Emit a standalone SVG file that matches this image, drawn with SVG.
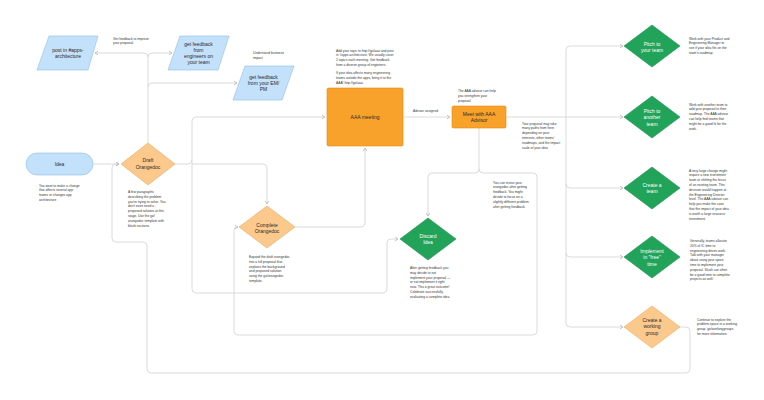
<svg xmlns="http://www.w3.org/2000/svg" width="764" height="400" viewBox="0 0 764 400">
<defs>
<marker id="arr" markerWidth="6" markerHeight="6" refX="4.5" refY="3" orient="auto" markerUnits="userSpaceOnUse">
<path d="M1.5,1.2 L4.5,3 L1.5,4.8" fill="none" stroke="#b8b8b8" stroke-width="0.8"/>
</marker>
<style>
.c{fill:none;stroke:#d2d2d2;stroke-width:0.8}
.a{marker-end:url(#arr)}
.blue{fill:#c3e1fb;stroke:#8dbde6;stroke-width:0.6}
.org{fill:#f9a22b;stroke:#e0890f;stroke-width:0.6}
.lorg{fill:#fcc98d;stroke:#e8a962;stroke-width:0.6}
.grn{fill:#22a35a;stroke:#1c8f4d;stroke-width:0.6}
.l{font-family:"Liberation Sans",Arial,sans-serif;font-size:5px;fill:#2b2b2b;text-anchor:middle}
.w{fill:#ffffff}
.n{font-family:"Liberation Sans",Arial,sans-serif;font-size:3.3px;fill:#333333}
</style>
</defs>
<rect width="764" height="400" fill="#ffffff"/>

<g id="connectors">
<path class="c a" d="M148,143 V57 Q148,53 144,53 H95"/>
<path class="c a" d="M148,57 Q148,53 152,53 H172"/>
<path class="c a" d="M148,87 Q148,83 152,83 H237"/>
<path class="c a" d="M175,164 H188 Q192,164 192,160 V121 Q192,117 196,117 H325"/>
<path class="c a" d="M192,160 V289 Q192,293 196,293 H383 Q387,293 387,289 V243 Q387,239 391,239 H398"/>
<path class="c a" d="M192,164 H263 Q267,164 267,168 V204"/>
<path class="c a" d="M295,227 H361 Q365,227 365,223 V148"/>
<path class="c a" d="M403,117 H450"/>
<path class="c a" d="M506,117 H623"/>
<path class="c a" d="M566,117 V50 Q566,46 570,46 H623"/>
<path class="c a" d="M566,117 V184 Q566,188 570,188 H623"/>
<path class="c a" d="M566,184 V253 Q566,257 570,257 H623"/>
<path class="c a" d="M566,253 V323 Q566,327 570,327 H623"/>
<path class="c a" d="M479,128 V169 Q479,173 475,173 H432 Q428,173 428,177 V216"/>
<path class="c a" d="M479,169 Q479,173 483,173 H533 Q537,173 537,177 V331 Q537,335 533,335 H238 Q234,335 234,331 V230 Q234,227 237,227 H238"/>
<path class="c a" d="M93,164 H119"/>
<path class="c a" d="M680,327 H686 Q690,327 690,331 V369 Q690,373 686,373 H151 Q147,373 147,369 V246 Q147,242 143,242 H116 Q112,242 112,238 V168 Q112,164 116,164 H119"/>
</g>

<g id="post-apps">
<polygon class="blue" points="49,36 98,36 88,70 37,70"/>
<text class="l" x="68" y="51.5">post in #apps-</text>
<text class="l" x="68" y="58">architecture</text>
</g>
<g id="feedback-engineers">
<polygon class="blue" points="180,36 229,36 218,70 168,70"/>
<text class="l" x="198.5" y="45.5">get feedback</text>
<text class="l" x="198.5" y="51.5">from</text>
<text class="l" x="198.5" y="58">engineers on</text>
<text class="l" x="198.5" y="64">your team</text>
</g>
<g id="feedback-em">
<polygon class="blue" points="245,66 294,66 282,100 233,100"/>
<text class="l" x="263.5" y="78.5">get feedback</text>
<text class="l" x="263.5" y="84.5">from your EM/</text>
<text class="l" x="263.5" y="90.8">PM</text>
</g>
<g id="aaa-meeting">
<rect class="org" x="327" y="88" width="76" height="58" rx="1.5"/>
<text class="l" x="365" y="118.7">AAA meeting</text>
</g>
<g id="meet-advisor">
<rect class="org" x="452" y="106" width="54" height="22" rx="1.5"/>
<text class="l" x="479" y="115.5">Meet with AAA</text>
<text class="l" x="479" y="121.5">Advisor</text>
</g>
<g id="idea">
<rect class="blue" x="26" y="153" width="67" height="22" rx="11"/>
<text class="l" x="59.5" y="165.7">Idea</text>
</g>
<g id="draft-orangedoc">
<polygon class="lorg" points="148,143 175,164 148,185 121,164"/>
<text class="l" x="148" y="162.3">Draft</text>
<text class="l" x="148" y="169">Orangedoc</text>
</g>
<g id="complete-orangedoc">
<polygon class="lorg" points="267,206 295,227 267,248 239,227"/>
<text class="l" x="267" y="226.5">Complete</text>
<text class="l" x="267" y="232.5">Orangedoc</text>
</g>
<g id="discard-idea">
<polygon class="grn" points="428,218 456,239 428,260 400,239"/>
<text class="l w" x="428" y="237.5">Discard</text>
<text class="l w" x="428" y="244">Idea</text>
</g>
<g id="pitch-your-team">
<polygon class="grn" points="652,25 680,46 652,67 624,46"/>
<text class="l w" x="652" y="45.8">Pitch to</text>
<text class="l w" x="652" y="51.8">your team</text>
</g>
<g id="pitch-another-team">
<polygon class="grn" points="652,96 680,117 652,138 624,117"/>
<text class="l w" x="652" y="112.5">Pitch to</text>
<text class="l w" x="652" y="119">another</text>
<text class="l w" x="652" y="125.5">team</text>
</g>
<g id="create-team">
<polygon class="grn" points="652,167 680,188 652,209 624,188"/>
<text class="l w" x="652" y="186.8">Create a</text>
<text class="l w" x="652" y="193.3">team</text>
</g>
<g id="implement-free-time">
<polygon class="grn" points="652,236 680,257 652,278 624,257"/>
<text class="l w" x="652" y="252.8">Implement</text>
<text class="l w" x="652" y="259.3">in "free"</text>
<text class="l w" x="652" y="265.8">time</text>
</g>
<g id="working-group">
<polygon class="lorg" points="652,306 680,327 652,348 624,327"/>
<text class="l" x="652" y="321.8">Create a</text>
<text class="l" x="652" y="328.3">working</text>
<text class="l" x="652" y="334.8">group</text>
</g>

<g id="notes">
<text class="n" x="113" y="39.5"><tspan x="113">Get feedback to improve</tspan><tspan x="113" dy="4.8">your proposal</tspan></text>
<text class="n" x="253" y="54"><tspan x="253">Understand business</tspan><tspan x="253" dy="4.8">impact</tspan></text>
<text class="n" x="336" y="51.5"><tspan x="336">Add your topic to http://go/aaa and post</tspan><tspan x="336" dy="4.8">in #apps-architecture. We usually cover</tspan><tspan x="336" dy="4.8">2 topics each meeting. Get feedback</tspan><tspan x="336" dy="4.8">from a diverse group of engineers.</tspan><tspan x="336" dy="8">If your idea affects many engineering</tspan><tspan x="336" dy="4.8">teams outside the apps, bring it to the</tspan><tspan x="336" dy="4.8">AAA! http://go/aaa</tspan></text>
<text class="n" x="413" y="112">Advisor assigned</text>
<text class="n" x="458" y="92"><tspan x="458">The AAA advisor can help</tspan><tspan x="458" dy="4.8">you strengthen your</tspan><tspan x="458" dy="4.8">proposal</tspan></text>
<text class="n" x="522" y="124.5"><tspan x="522">Your proposal may take</tspan><tspan x="522" dy="4.8">many paths from here</tspan><tspan x="522" dy="4.8">depending on your</tspan><tspan x="522" dy="4.8">interests, other teams'</tspan><tspan x="522" dy="4.8">roadmaps, and the impact</tspan><tspan x="522" dy="4.8">scale of your idea</tspan></text>
<text class="n" x="689" y="39.5"><tspan x="689">Work with your Product and</tspan><tspan x="689" dy="4.8">Engineering Manager to</tspan><tspan x="689" dy="4.8">see if your idea fits on the</tspan><tspan x="689" dy="4.8">team's roadmap.</tspan></text>
<text class="n" x="689" y="105.5"><tspan x="689">Work with another team to</tspan><tspan x="689" dy="4.8">add your proposal to their</tspan><tspan x="689" dy="4.8">roadmap. The AAA advisor</tspan><tspan x="689" dy="4.8">can help find teams that</tspan><tspan x="689" dy="4.8">might be a good fit for the</tspan><tspan x="689" dy="4.8">work.</tspan></text>
<text class="n" x="689" y="171.5"><tspan x="689">A very large change might</tspan><tspan x="689" dy="4.8">require a new investment</tspan><tspan x="689" dy="4.8">team or shifting the focus</tspan><tspan x="689" dy="4.8">of an existing team. This</tspan><tspan x="689" dy="4.8">decision would happen at</tspan><tspan x="689" dy="4.8">the Engineering Director</tspan><tspan x="689" dy="4.8">level. The AAA advisor can</tspan><tspan x="689" dy="4.8">help you make the case</tspan><tspan x="689" dy="4.8">that the impact of your idea</tspan><tspan x="689" dy="4.8">is worth a large resource</tspan><tspan x="689" dy="4.8">investment.</tspan></text>
<text class="n" x="690" y="242"><tspan x="690">Generally, teams allocate</tspan><tspan x="690" dy="4.8">20% of IC time to</tspan><tspan x="690" dy="4.8">engineering driven work.</tspan><tspan x="690" dy="4.8">Talk with your manager</tspan><tspan x="690" dy="4.8">about using your spare</tspan><tspan x="690" dy="4.8">time to implement your</tspan><tspan x="690" dy="4.8">proposal. Slush can often</tspan><tspan x="690" dy="4.8">be a good time to complete</tspan><tspan x="690" dy="4.8">projects as well.</tspan></text>
<text class="n" x="697" y="320.5"><tspan x="697">Continue to explore the</tspan><tspan x="697" dy="4.8">problem space in a working</tspan><tspan x="697" dy="4.8">group. go/workinggroups</tspan><tspan x="697" dy="4.8">for more information.</tspan></text>
<text class="n" x="39" y="186.5"><tspan x="39">You want to make a change</tspan><tspan x="39" dy="4.8">that affects several app</tspan><tspan x="39" dy="4.8">teams or changes app</tspan><tspan x="39" dy="4.8">architecture</tspan></text>
<text class="n" x="128" y="193"><tspan x="128">A few paragraphs</tspan><tspan x="128" dy="4.8">describing the problem</tspan><tspan x="128" dy="4.8">you're trying to solve. You</tspan><tspan x="128" dy="4.8">don't even need a</tspan><tspan x="128" dy="4.8">proposed solution at this</tspan><tspan x="128" dy="4.8">stage. Use the go/</tspan><tspan x="128" dy="4.8">orangedoc template with</tspan><tspan x="128" dy="4.8">blank sections.</tspan></text>
<text class="n" x="249" y="258"><tspan x="249">Expand the draft orangedoc</tspan><tspan x="249" dy="4.8">into a full proposal that</tspan><tspan x="249" dy="4.8">explains the background</tspan><tspan x="249" dy="4.8">and proposed solution</tspan><tspan x="249" dy="4.8">using the go/orangedoc</tspan><tspan x="249" dy="4.8">template.</tspan></text>
<text class="n" x="493" y="183.5"><tspan x="493">You can revise your</tspan><tspan x="493" dy="4.8">orangedoc after getting</tspan><tspan x="493" dy="4.8">feedback. You might</tspan><tspan x="493" dy="4.8">decide to focus on a</tspan><tspan x="493" dy="4.8">slightly different problem</tspan><tspan x="493" dy="4.8">after getting feedback.</tspan></text>
<text class="n" x="410" y="269"><tspan x="410">After getting feedback you</tspan><tspan x="410" dy="4.8">may decide to not</tspan><tspan x="410" dy="4.8">implement your proposal —</tspan><tspan x="410" dy="4.8">or not implement it right</tspan><tspan x="410" dy="4.8">now. This a great outcome!</tspan><tspan x="410" dy="4.8">Celebrate successfully</tspan><tspan x="410" dy="4.8">evaluating a complete idea.</tspan></text>
</g>
</svg>
